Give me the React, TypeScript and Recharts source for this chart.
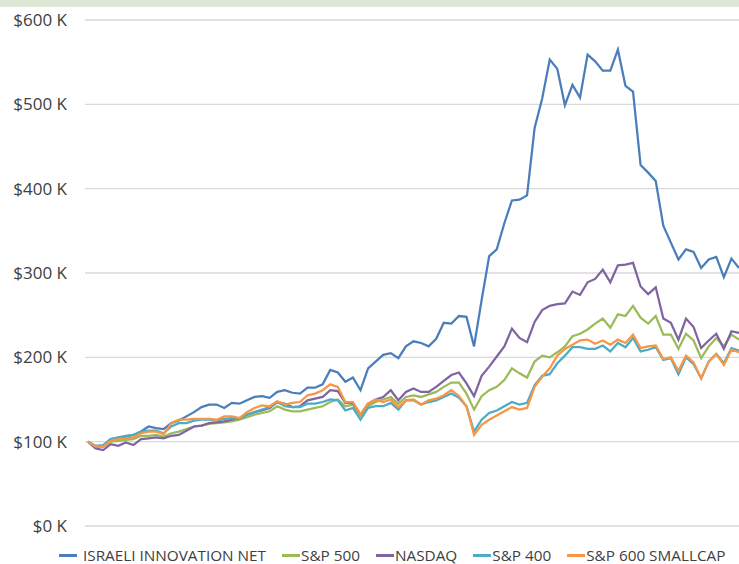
import { LineChart, Line, XAxis, YAxis, CartesianGrid, Legend } from 'recharts';

// portfolio value in $K, one point per period
const israeli = [
  100, 94, 95, 103, 104, 106, 108, 112, 118, 116, 115, 122, 125, 130, 135, 141, 144, 144, 140, 146,
  145, 149, 153, 154, 152, 159, 161, 158, 157, 164, 164, 168, 185, 182, 171, 176, 161, 187, 195, 203,
  205, 199, 213, 219, 217, 213, 222, 241, 240, 249, 248, 213, 268, 320, 328, 359, 386, 387, 392, 472,
  507, 553, 542, 499, 523, 508, 559, 551, 540, 540, 565, 522, 515, 428, 419, 409, 356, 336, 316, 328,
  325, 306, 316, 319, 295, 317, 306,
];
const sp500 = [
  100, 95, 94, 100, 101, 102, 103, 107, 107, 108, 106, 110, 112, 115, 118, 119, 121, 122, 123, 124,
  126, 129, 132, 134, 136, 142, 138, 136, 136, 138, 140, 142, 147, 150, 142, 144, 131, 142, 147, 150,
  153, 145, 153, 155, 153, 156, 159, 165, 170, 170, 157, 138, 154, 161, 165, 173, 187, 181, 176, 195,
  202, 200, 206, 213, 225, 228, 233, 240, 246, 235, 251, 249, 261, 247, 240, 249, 227, 227, 210, 228,
  220, 199, 213, 223, 213, 227, 221,
];
const nasdaq = [
  100, 92, 90, 97, 95, 99, 96, 103, 104, 105, 104, 107, 108, 113, 118, 119, 122, 123, 124, 126,
  128, 132, 135, 137, 140, 147, 145, 141, 142, 149, 151, 153, 161, 160, 146, 146, 132, 145, 150, 153,
  161, 149, 159, 163, 159, 159, 165, 172, 179, 182, 169, 154, 178, 189, 201, 213, 234, 223, 218, 242,
  256, 261, 263, 264, 278, 274, 289, 293, 304, 289, 309, 310, 312, 284, 275, 283, 246, 241, 221, 246,
  236, 211, 220, 228, 210, 231, 229,
];
const sp400 = [
  100, 95, 96, 103, 105, 107, 108, 112, 113, 113, 110, 118, 122, 122, 125, 126, 126, 125, 127, 128,
  127, 132, 135, 138, 141, 147, 142, 141, 141, 145, 145, 147, 150, 149, 137, 140, 126, 140, 142, 142,
  146, 138, 149, 149, 144, 147, 149, 153, 157, 152, 142, 112, 126, 134, 137, 142, 147, 144, 146, 167,
  178, 180, 193, 202, 212, 212, 210, 210, 214, 207, 217, 212, 223, 207, 209, 212, 197, 199, 180, 200,
  192, 175, 195, 204, 193, 211, 208,
];
const sp600 = [
  100, 94, 94, 101, 103, 104, 105, 110, 112, 112, 109, 122, 126, 126, 127, 127, 127, 126, 130, 130,
  128, 135, 140, 143, 142, 148, 144, 146, 147, 155, 157, 161, 168, 165, 147, 147, 132, 145, 150, 147,
  150, 141, 149, 150, 144, 149, 151, 155, 161, 154, 142, 108, 120, 126, 131, 136, 141, 138, 140, 165,
  177, 187, 202, 210, 215, 220, 221, 216, 220, 215, 221, 217, 227, 211, 213, 214, 198, 200, 184, 202,
  194, 175, 195, 204, 191, 209, 206,
];
const yTicks = [0, 100, 200, 300, 400, 500, 600];

const series = [
  { key: 'israeli', name: 'ISRAELI INNOVATION NET', color: '#4a7ebb', values: israeli },
  { key: 'sp500', name: 'S&P 500', color: '#9bbb59', values: sp500 },
  { key: 'nasdaq', name: 'NASDAQ', color: '#8064a2', values: nasdaq },
  { key: 'sp400', name: 'S&P 400', color: '#4bacc6', values: sp400 },
  { key: 'sp600', name: 'S&P 600 SMALLCAP', color: '#f79646', values: sp600 },
];

const data = israeli.map((_, i) => {
  const row: Record<string, number> = { period: i };
  series.forEach((s) => {
    row[s.key] = s.values[i];
  });
  return row;
});

const FONT = '"Open Sans", "Noto Sans", sans-serif';

function ChartLegend() {
  return (
    <div
      style={{
        display: 'flex',
        paddingLeft: 59,
        fontFamily: FONT,
        fontSize: 15.3,
        lineHeight: '15px',
        height: 15,
        color: '#404040',
        whiteSpace: 'nowrap',
      }}
    >
      {series.map((s, idx) => (
        <div key={s.key} style={{ display: 'flex', alignItems: 'center', marginRight: 16 }}>
          <span
            style={{
              display: 'inline-block',
              width: 18,
              height: 2.5,
              background: s.color,
              marginRight: idx === 0 ? 6 : 1,
            }}
          />
          <span>{s.name}</span>
        </div>
      ))}
    </div>
  );
}

export default function App() {
  return (
    <div
      style={{
        position: 'absolute',
        left: 0,
        top: 0,
        width: 739,
        height: 564,
        background: '#fff',
        overflow: 'hidden',
      }}
    >
      <div style={{ position: 'absolute', left: 0, top: 0, width: 739, height: 7, background: '#dfe8d6' }} />
      <LineChart width={739} height={564} data={data} margin={{ top: 20, right: 0, bottom: 23, left: 0 }}>
        <CartesianGrid vertical={false} stroke="#d9d9d9" strokeWidth={1.3} />
        <XAxis dataKey="period" hide padding={{ left: 3, right: 0 }} />
        <YAxis
          width={85}
          domain={[0, 600]}
          ticks={yTicks}
          axisLine={false}
          tickLine={false}
          tickMargin={12}
          tickFormatter={(v) => `$${v} K`}
          tick={{ fill: '#404040', fontSize: 17, fontFamily: FONT }}
        />
        <Legend content={<ChartLegend />} wrapperStyle={{ left: 0, top: 548, width: 739, height: 15 }} />
        {series.map((s) => (
          <Line
            key={s.key}
            dataKey={s.key}
            name={s.name}
            stroke={s.color}
            strokeWidth={2.25}
            dot={false}
            type="linear"
            isAnimationActive={false}
          />
        ))}
      </LineChart>
    </div>
  );
}
